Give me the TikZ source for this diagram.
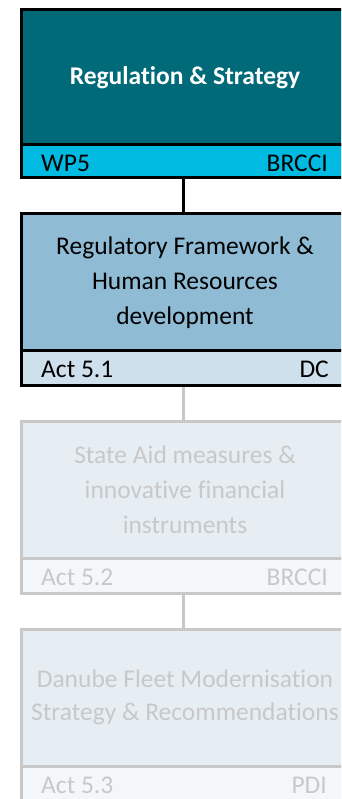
\documentclass[tikz,border=0pt]{standalone}
\usepackage{fontspec}
\setmainfont[Ligatures={NoCommon}]{Carlito}
\definecolor{tealmain}{RGB}{0,106,121}
\definecolor{cyanstrip}{RGB}{0,186,226}
\definecolor{bluemain}{RGB}{143,187,212}
\definecolor{bluestrip}{RGB}{205,224,235}
\definecolor{palemain}{RGB}{230,238,244}
\definecolor{palestrip}{RGB}{243,247,250}
\definecolor{paleline}{RGB}{200,200,200}
\begin{document}
\begin{tikzpicture}[x=1pt,y=-1pt,
  mainbox/.style={rectangle, minimum width=327.4pt, inner sep=0pt, line width=3pt, align=center,
    font=\fontsize{25.5}{35}\selectfont},
  stripbox/.style={rectangle, minimum width=327.4pt, inner sep=0pt, line width=3pt},
  lbl/.style={inner sep=0pt, font=\fontsize{25.5}{28}\selectfont},
  paleset/.style={draw=paleline, fill=palemain, text=paleline},
  conn/.style={line width=3pt}
]
\useasboundingbox (0,0) rectangle (341,799);
\clip (0,0) rectangle (341,799);
% Box 1
\node[mainbox, draw=black, fill=tealmain, text=white, minimum height=136.5pt,
  font=\fontsize{25.5}{35}\selectfont\bfseries] (m1) at (185.0,77.5) {Regulation \& Strategy};
\node[stripbox, draw=black, fill=cyanstrip, minimum height=33pt] (s1) at (185.0,161.5) {};
\node[lbl, anchor=base west] (l1) at (41,171.5) {WP5};
\node[lbl, anchor=base east] (r1) at (328,171.5) {BRCCI};
% Box 2
\node[mainbox, draw=black, fill=bluemain, text=black, minimum height=136.5pt] (m2) at (185.0,282.25)
  {Regulatory Framework \&\\Human Resources\\development};
\node[stripbox, draw=black, fill=bluestrip, minimum height=35pt] (s2) at (185.0,368) {};
\node[lbl, anchor=base west] (l2) at (41,377) {Act 5.1};
\node[lbl, anchor=base east] (r2) at (329,377) {DC};
% Box 3
\node[mainbox, paleset, minimum height=137.5pt] (m3) at (185.0,489.75)
  {State Aid measures \&\\innovative financial\\instruments};
\node[stripbox, draw=paleline, fill=palestrip, minimum height=35pt] (s3) at (185.0,576) {};
\node[lbl, anchor=base west, text=paleline] (l3) at (41,585) {Act 5.2};
\node[lbl, anchor=base east, text=paleline] (r3) at (328,585) {BRCCI};
% Box 4
\node[mainbox, paleset, minimum height=137pt, font=\fontsize{25.5}{33}\selectfont] (m4) at (185.0,697.5)
  {Danube Fleet Modernisation\\Strategy \& Recommendations};
\node[stripbox, draw=paleline, fill=palestrip, minimum height=35pt] (s4) at (185.0,783.5) {};
\node[lbl, anchor=base west, text=paleline] (l4) at (41,793) {Act 5.3};
\node[lbl, anchor=base east, text=paleline] (r4) at (327,793) {PDI};
% Connectors
\draw[conn, black] (s1.south -| 183,0) -- (m2.north -| 183,0);
\draw[conn, paleline] (s2.south -| 183,0) -- (m3.north -| 183,0);
\draw[conn, paleline] (s3.south -| 183,0) -- (m4.north -| 183,0);
\end{tikzpicture}
\end{document}
